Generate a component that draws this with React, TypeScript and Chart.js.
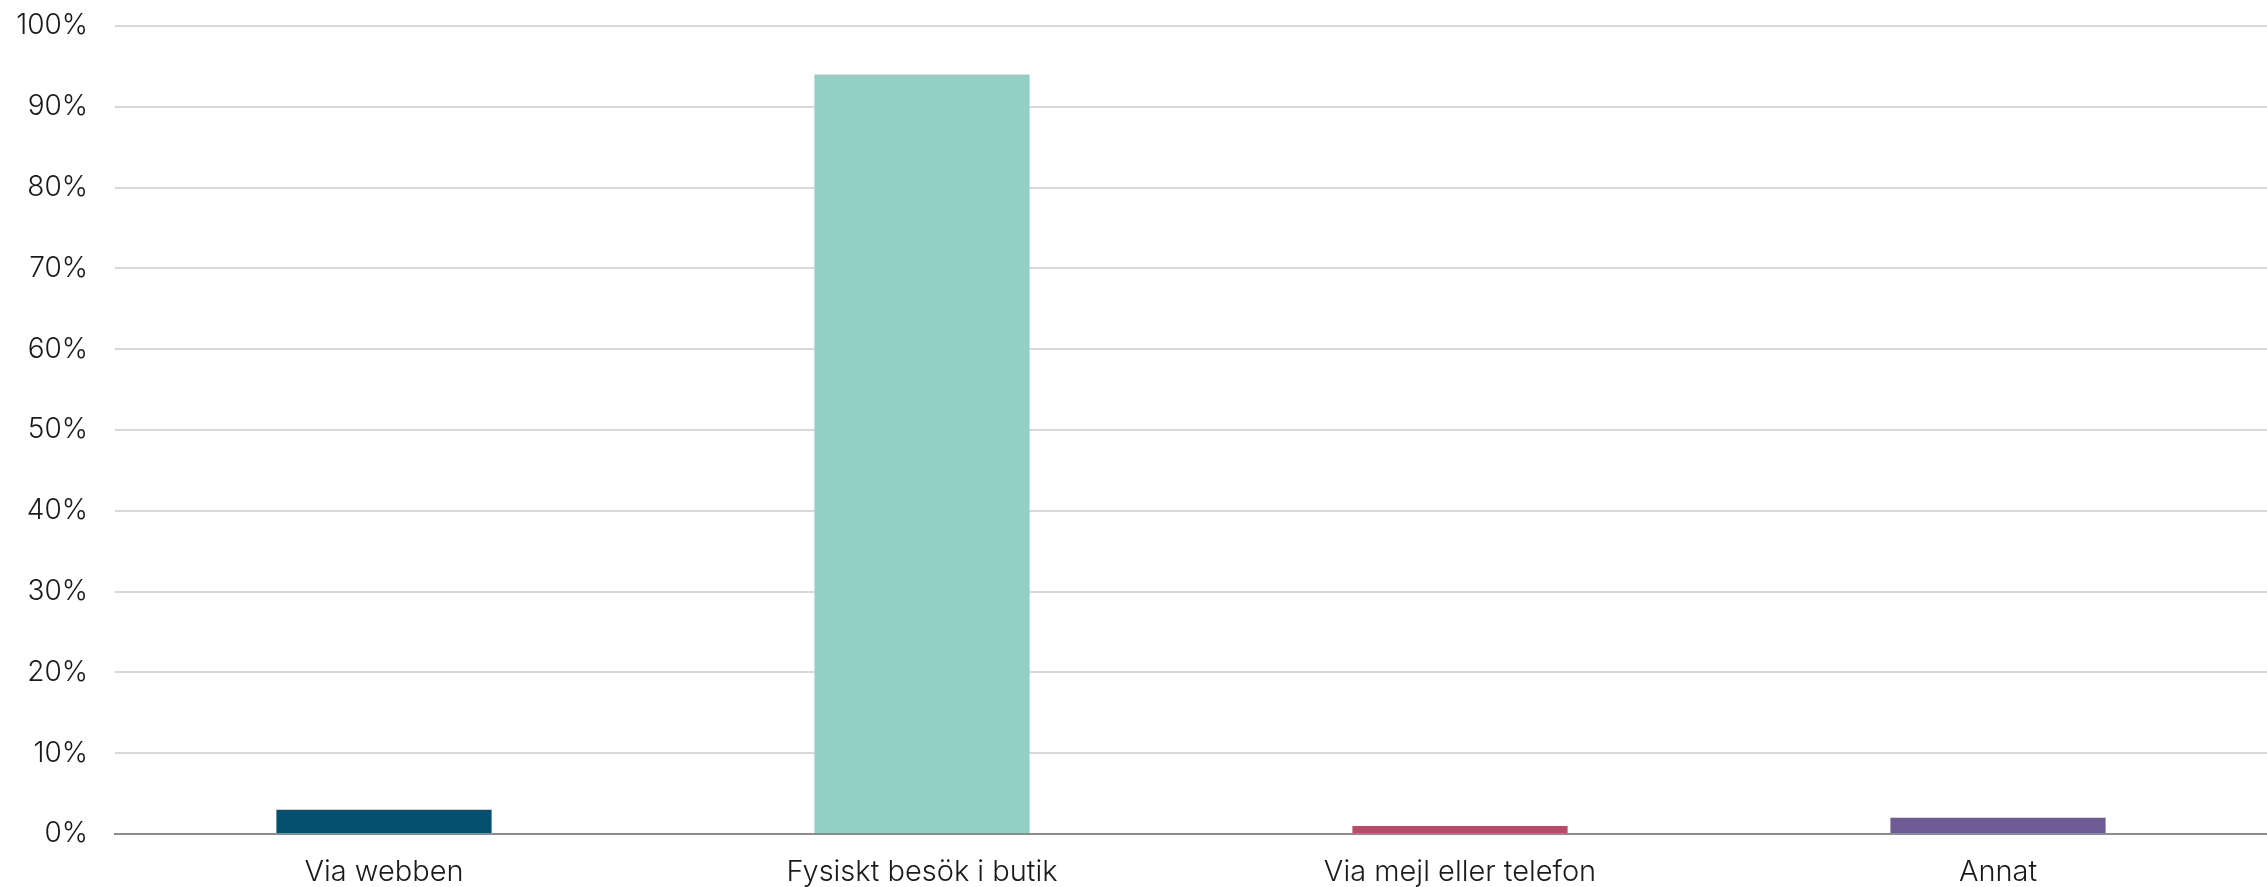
import React, { useEffect, useRef } from "react";
import { Chart, registerables } from "chart.js";

Chart.register(...registerables);

const categories = ["Via webben", "Fysiskt besök i butik", "Via mejl eller telefon", "Annat"];
const values = [3, 94, 1, 2];
const barColors = ["#04506f", "#93cfc7", "#be4767", "#6e5a94"];
const yTicks = [0, 10, 20, 30, 40, 50, 60, 70, 80, 90, 100];

export default function App() {
  const ref = useRef<HTMLCanvasElement | null>(null);
  useEffect(() => {
    if (!ref.current) return;
    const chart = new Chart(ref.current, {
      type: "bar",
      data: {
        labels: categories,
        datasets: [
          {
            data: values,
            backgroundColor: barColors,
            borderWidth: 0,
            barPercentage: 0.4,
            categoryPercentage: 1.0,
          },
        ],
      },
      options: {
        animation: false,
        responsive: true,
        maintainAspectRatio: false,
        layout: { padding: { top: 26, right: 0, bottom: 0, left: 0 } },
        plugins: { legend: { display: false }, tooltip: { enabled: false } },
        scales: {
          x: {
            grid: { display: false, drawTicks: false },
            border: { display: true, color: "#8c8c8c", width: 2 },
            ticks: {
              color: "#1a1a1a",
              font: { family: "Inter", size: 29, weight: 300 },
              padding: 21,
              maxRotation: 0,
            },
            afterFit: (s: any) => {
              s.height = 53;
            },
          },
          y: {
            min: 0,
            max: 100,
            afterBuildTicks: (s: any) => {
              s.ticks = yTicks.map((v) => ({ value: v }));
            },
            grid: { color: "#d9d9d9", lineWidth: 2, drawTicks: false },
            border: { display: false },
            ticks: {
              color: "#1a1a1a",
              font: { family: "Inter", size: 28, weight: 300 },
              padding: 27,
              callback: (v: any) => v + "%",
            },
            afterFit: (s: any) => {
              s.width = 115;
              s.paddingTop = 0;
              s.paddingBottom = 0;
            },
          },
        },
      },
    });
    return () => chart.destroy();
  }, []);
  return (
    <div style={{ position: "fixed", left: 0, top: 0, width: 2267, height: 887, background: "#fff" }}>
      <canvas ref={ref} />
    </div>
  );
}
